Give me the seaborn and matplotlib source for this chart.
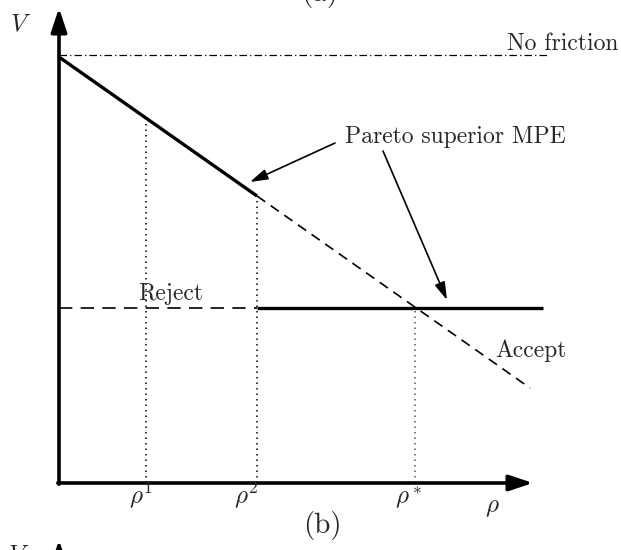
import matplotlib
matplotlib.use("Agg")
import matplotlib.pyplot as plt
import seaborn as sns
import pandas as pd

# ---- data (rho in chart units, V in chart units) ----
rho_ticks = [0.87, 1.98, 3.56]
rho_tick_labels = [r"$\rho^1$", r"$\rho^2$", r"$\rho^*$"]
v_no_friction = 4.28
no_friction_rho = [0.0, 4.89]
mpe_rho = [0.0, 1.98]
mpe_v = [4.26, 2.87]
accept_rho = [1.98, 4.71]
accept_v = [2.87, 0.95]
reject_level = 1.75
reject_dashed_rho = [0.0, 1.98]
reject_solid_rho = [1.98, 4.84]
dotted_tops = [3.65, 2.87, 1.75]
dotted_colors = ["black", "black", "#555555"]
axis_x_end = 4.74
axis_y_end = 4.75

sns.set_theme(style="white")
plt.rcParams["font.family"] = ["cmr10", "DejaVu Serif"]
plt.rcParams["mathtext.fontset"] = "cm"
plt.rcParams["axes.unicode_minus"] = False

fig = plt.figure(figsize=(6.21, 5.5), dpi=100)
ax = fig.add_axes([0, 0, 1, 1])
ax.set_xlim(-0.59, 5.62)
ax.set_ylim(-0.67, 4.83)
ax.set_axis_off()


def line(x, y, color="black", **kw):
    df = pd.DataFrame({"x": x, "y": y})
    sns.lineplot(data=df, x="x", y="y", ax=ax, sort=False, estimator=None,
                 color=color, legend=False, **kw)


# no friction
line(no_friction_rho, [v_no_friction] * 2, lw=0.9, linestyle=(0, (6, 2.5, 1, 2.5)))
# MPE solid
line(mpe_rho, mpe_v, lw=2.4, solid_capstyle="butt")
# accept dashed
line(accept_rho, accept_v, lw=1.2, linestyle=(0, (6, 4)))
# reject dashed + solid
line(reject_dashed_rho, [reject_level] * 2, lw=1.2, linestyle=(0, (8, 5)))
line(reject_solid_rho, [reject_level] * 2, lw=2.4, solid_capstyle="butt")
# dotted verticals
for xr, top, col in zip(rho_ticks, dotted_tops, dotted_colors):
    line([xr, xr], [0, top], color=col, lw=1.1, linestyle=(0, (1, 2.6)))

# axes with arrows
axis_ap = dict(arrowstyle="-|>,head_length=0.9,head_width=0.3",
               lw=2.6, color="black", mutation_scale=16,
               shrinkA=0, shrinkB=0)
ax.annotate("", xy=(axis_x_end, 0), xytext=(-0.012, 0), arrowprops=axis_ap)
ax.annotate("", xy=(0, axis_y_end), xytext=(0, -0.012), arrowprops=axis_ap)
# next panel's axis tip (cut off at the bottom edge)
ax.annotate("", xy=(0, -0.57), xytext=(0, -1.5), arrowprops=axis_ap,
            annotation_clip=False)

# labels
fs = 17
ax.text(-0.38, 4.59, r"$V$", fontsize=18, ha="center", va="center")
ax.text(-0.40, -0.72, r"$V$", fontsize=18, ha="center", va="center", clip_on=False)
ax.text(5.59, 4.33, "No friction", fontsize=fs, ha="right", va="baseline")
ax.text(2.86, 3.40, "Pareto superior MPE", fontsize=fs, ha="left", va="baseline")
ax.text(0.79, 1.83, "Reject", fontsize=fs, ha="left", va="baseline")
ax.text(4.36, 1.26, "Accept", fontsize=fs, ha="left", va="baseline")
for xr, lab in zip([0.82, 1.87, 3.50], rho_tick_labels):
    ax.text(xr, -0.21, lab, fontsize=18, ha="center", va="baseline")
ax.text(4.33, -0.29, r"$\rho$", fontsize=18, ha="center", va="baseline")
ax.text(2.63, -0.43, "(b)", fontsize=21, ha="center", va="center")
ax.text(2.61, 4.89, "(a)", fontsize=21, ha="center", va="center", clip_on=False)

# annotation arrows
ap = dict(arrowstyle="-|>,head_length=0.8,head_width=0.24", lw=1.2,
          color="black", mutation_scale=13.5, shrinkA=0, shrinkB=0)
ax.annotate("", xy=(1.91, 3.01), xytext=(2.76, 3.40), arrowprops=ap)
ax.annotate("", xy=(3.88, 1.83), xytext=(3.24, 3.32), arrowprops=ap)

fig.savefig("out.png", dpi=100)
